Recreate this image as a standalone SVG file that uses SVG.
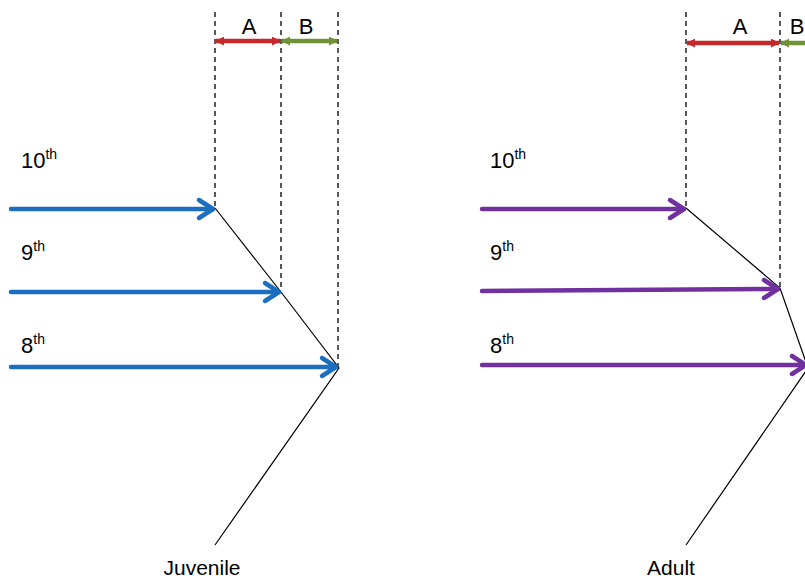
<svg xmlns="http://www.w3.org/2000/svg" width="805" height="581" viewBox="0 0 805 581">
<style>
.dash{stroke:#000;stroke-width:1.3;stroke-dasharray:5,4;fill:none}
.thin{stroke:#000;stroke-width:1.2;fill:none}
.blue{stroke:#1b6fbe;stroke-width:4.5;fill:none;stroke-linecap:round;stroke-linejoin:round}
.purple{stroke:#7030a0;stroke-width:4.5;fill:none;stroke-linecap:round;stroke-linejoin:round}
.red{stroke:#c5282b;stroke-width:4.5;fill:none}
.green{stroke:#6f9236;stroke-width:4.5;fill:none}
text{font-family:"Liberation Sans",Arial,sans-serif;fill:#000}
.lbl{font-size:22px}
.sup{font-size:14px}
.cap{font-size:21px}
</style>
<defs>
<marker id="hr" viewBox="0 0 10 10" refX="9" refY="5" markerWidth="2" markerHeight="2" orient="auto-start-reverse"><path d="M0,0 L10,5 L0,10 Z" fill="#c5282b"/></marker>
<marker id="hg" viewBox="0 0 10 10" refX="9" refY="5" markerWidth="2" markerHeight="2" orient="auto-start-reverse"><path d="M0,0 L10,5 L0,10 Z" fill="#6f9236"/></marker>
</defs>
<g id="juvenile">
<g id="guides-left">
<line class="dash" x1="215" y1="12" x2="215" y2="208"/>
<line class="dash" x1="281" y1="12" x2="281" y2="291"/>
<line class="dash" x1="338" y1="12" x2="338" y2="367"/>
</g>
<g id="ab-left">
<line class="red" x1="216" y1="41" x2="280" y2="41" marker-start="url(#hr)" marker-end="url(#hr)"/>
<line class="green" x1="282" y1="41" x2="337" y2="41" marker-start="url(#hg)" marker-end="url(#hg)"/>
<text class="lbl" x="249" y="34" text-anchor="middle">A</text>
<text class="lbl" x="306" y="34" text-anchor="middle">B</text>
</g>
<polyline class="thin" points="215,208 281,292 339,368 215,545"/>
<g id="rays-left">
<line class="blue" x1="11" y1="209" x2="213" y2="209"/>
<polyline class="blue" points="199,200 213,209 199,218"/>
<line class="blue" x1="11" y1="292" x2="279" y2="292"/>
<polyline class="blue" points="265,283 279,292 265,301"/>
<line class="blue" x1="11" y1="367" x2="336" y2="367"/>
<polyline class="blue" points="322,358 336,367 322,376"/>
</g>
<text class="lbl" x="21" y="168">10<tspan class="sup" dy="-9">th</tspan></text>
<text class="lbl" x="21" y="260">9<tspan class="sup" dy="-9">th</tspan></text>
<text class="lbl" x="21" y="353">8<tspan class="sup" dy="-9">th</tspan></text>
<text class="cap" x="202" y="575" text-anchor="middle">Juvenile</text>
</g>
<g id="adult">
<g id="guides-right">
<line class="dash" x1="686" y1="12" x2="686" y2="208"/>
<line class="dash" x1="780" y1="12" x2="780" y2="288"/>
</g>
<g id="ab-right">
<line class="red" x1="687" y1="43" x2="779" y2="43" marker-start="url(#hr)" marker-end="url(#hr)"/>
<line class="green" x1="781" y1="43" x2="810" y2="43" marker-start="url(#hg)"/>
<text class="lbl" x="740" y="34" text-anchor="middle">A</text>
<text class="lbl" x="797" y="34" text-anchor="middle">B</text>
</g>
<polyline class="thin" points="686,208 780,288 808,368 686,545"/>
<g id="rays-right">
<line class="purple" x1="482" y1="209" x2="684" y2="209"/>
<polyline class="purple" points="670,200 684,209 670,218"/>
<line class="purple" x1="482" y1="291" x2="778" y2="289"/>
<polyline class="purple" points="764,280 778,289 764,298"/>
<line class="purple" x1="482" y1="365" x2="806" y2="365"/>
<polyline class="purple" points="792,356 806,365 792,374"/>
</g>
<text class="lbl" x="490" y="168">10<tspan class="sup" dy="-9">th</tspan></text>
<text class="lbl" x="490" y="260">9<tspan class="sup" dy="-9">th</tspan></text>
<text class="lbl" x="490" y="353">8<tspan class="sup" dy="-9">th</tspan></text>
<text class="cap" x="671" y="575" text-anchor="middle">Adult</text>
</g>
</svg>
